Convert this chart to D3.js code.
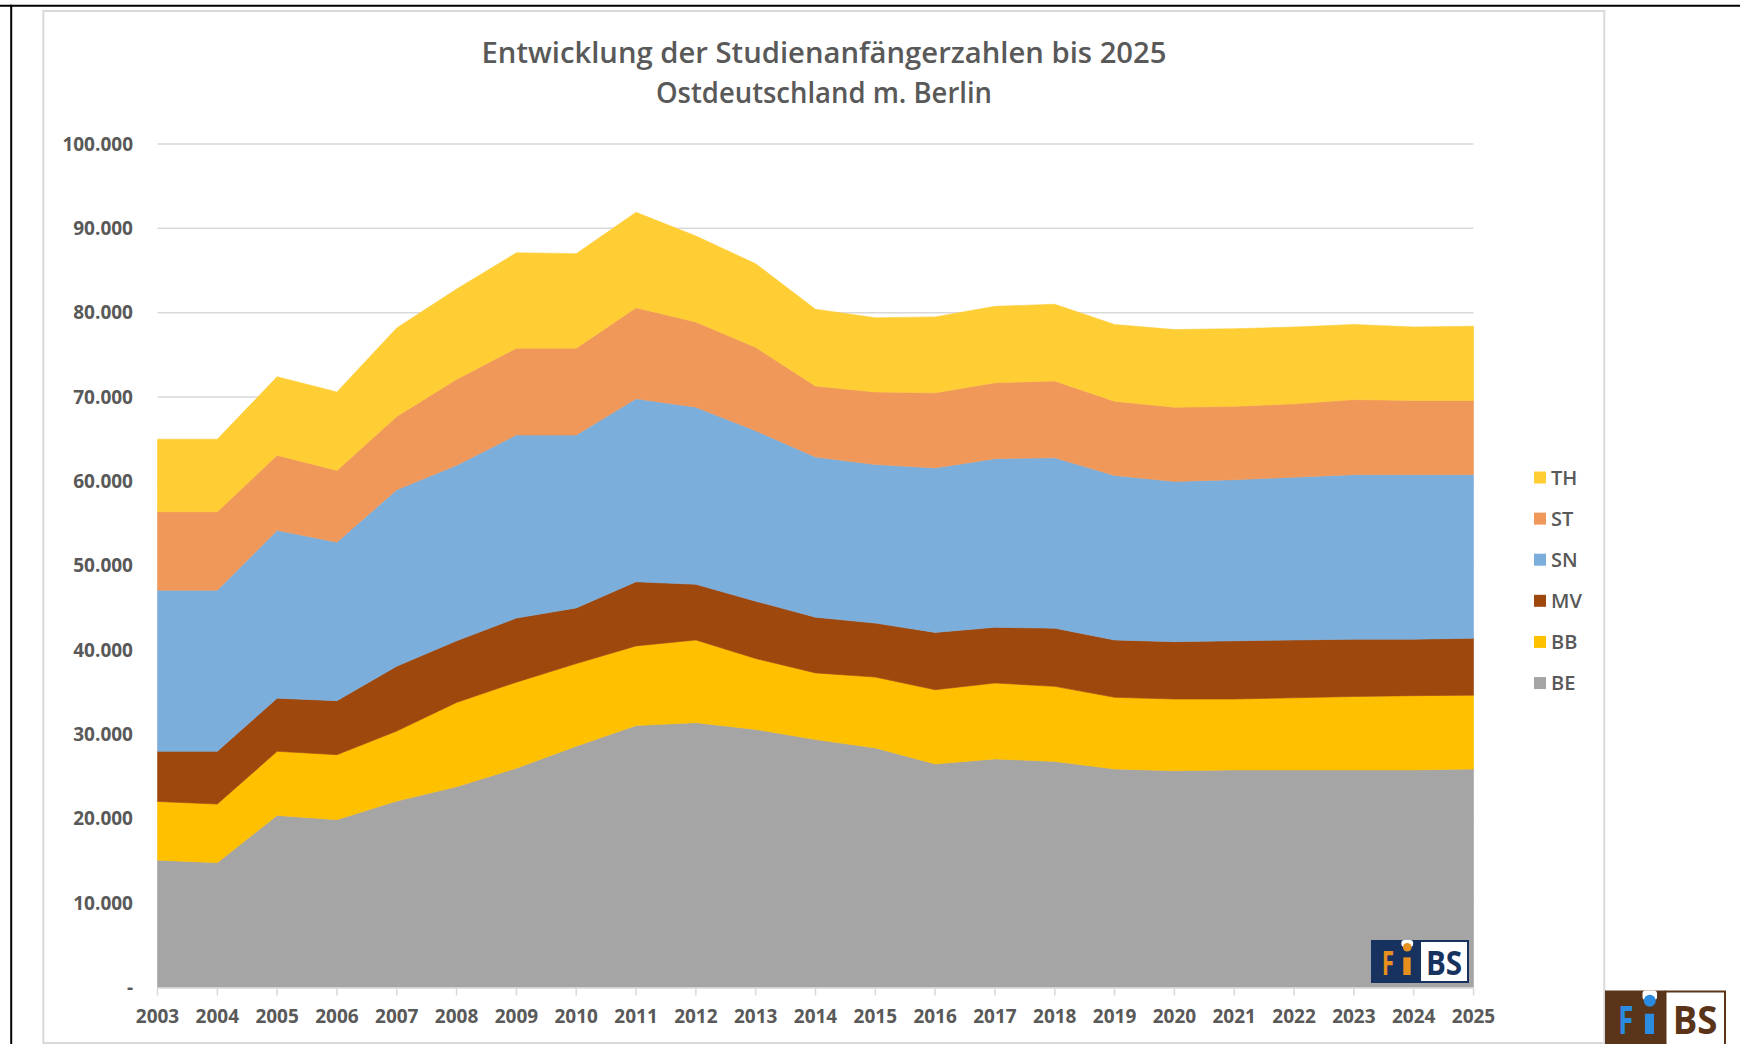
<!DOCTYPE html>
<html>
<head>
<meta charset="utf-8">
<script src="https://cdn.jsdelivr.net/npm/d3@7"></script>
<style>
  html, body { margin: 0; padding: 0; background: #fff; }
  svg { display: block; }
  text { font-family: "Open Sans", "DejaVu Sans", sans-serif; fill: #595959; }
</style>
</head>
<body>
<svg id="chart" width="1740" height="1044"></svg>
<script>
// Studienanfänger nach Ländern (Ostdeutschland m. Berlin)
var years = [2003, 2004, 2005, 2006, 2007, 2008, 2009, 2010, 2011, 2012, 2013, 2014,
             2015, 2016, 2017, 2018, 2019, 2020, 2021, 2022, 2023, 2024, 2025];
var keys = ["BE", "BB", "MV", "SN", "ST", "TH"];
var be = [15100, 14800, 20400, 19900, 22100, 23800, 26000, 28600, 31050, 31400, 30600, 29400,
          28400, 26500, 27100, 26800, 25900, 25700, 25800, 25800, 25800, 25800, 25900];
var bb = [6950, 6950, 7600, 7700, 8300, 10000, 10200, 9800, 9450, 9800, 8400, 7900,
          8400, 8800, 9000, 8900, 8500, 8500, 8400, 8550, 8700, 8800, 8750];
var mv = [5950, 6250, 6300, 6400, 7700, 7300, 7600, 6600, 7600, 6600, 6800, 6600,
          6400, 6800, 6600, 6900, 6800, 6800, 6900, 6850, 6800, 6700, 6750];
var sn = [19100, 19100, 19900, 18800, 20900, 20800, 21700, 20500, 21700, 21000, 20200, 19000,
          18800, 19500, 20000, 20200, 19500, 19000, 19100, 19300, 19500, 19500, 19400];
var st = [9300, 9300, 8900, 8500, 8700, 10200, 10300, 10300, 10800, 10100, 9900, 8400,
          8600, 8900, 9000, 9100, 8800, 8800, 8700, 8700, 8900, 8800, 8800];
var th = [8600, 8600, 9300, 9300, 10500, 10700, 11300, 11200, 11300, 10200, 9900, 9100,
          8800, 9000, 9050, 9100, 9100, 9200, 9200, 9100, 8900, 8700, 8800];
var yTicks = [0, 10000, 20000, 30000, 40000, 50000, 60000, 70000, 80000, 90000, 100000];
var titleLines = ["Entwicklung der Studienanfängerzahlen bis 2025", "Ostdeutschland m. Berlin"];
var colors = { BE: "#a5a5a5", BB: "#ffc000", MV: "#9e480e", SN: "#7caedc", ST: "#f0985a", TH: "#ffcd34" };

var svg = d3.select("#chart");
var series = { BE: be, BB: bb, MV: mv, SN: sn, ST: st, TH: th };
var rows = years.map(function (yr, i) {
    var r = { year: yr };
    keys.forEach(function (k) { r[k] = series[k][i]; });
    return r;
});

var x = d3.scaleLinear().domain([2003, 2025]).range([157.5, 1473.5]),
    y = d3.scaleLinear().domain([0, 100000]).range([987.5, 144]),
    de = d3.formatLocale({ decimal: ",", thousands: ".", grouping: [3], currency: ["", " €"] }),
    fmt = de.format(",.0f");

// frames
svg.append("line").attr("x1", 0).attr("x2", 1740).attr("y1", 5.7).attr("y2", 5.7)
    .style("stroke", "#000").style("stroke-width", 2);
svg.append("line").attr("x1", 11.2).attr("x2", 11.2).attr("y1", 4.7).attr("y2", 1044)
    .style("stroke", "#000").style("stroke-width", 2);
svg.append("rect").attr("x", 43.3).attr("y", 11).attr("width", 1561).attr("height", 1032)
    .style("fill", "#fff").style("stroke", "#d9d9d9").style("stroke-width", 2);

// title
svg.selectAll(".title").data(titleLines).enter().append("text")
    .attr("class", "title")
    .attr("x", 824).attr("y", function (d, i) { return 63 + i * 40; })
    .attr("text-anchor", "middle")
    .attr("textLength", function (d, i) { return i === 0 ? 685 : 336; })
    .attr("lengthAdjust", "spacingAndGlyphs")
    .style("font-size", "28px").style("font-weight", 600)
    .text(function (d) { return d; });

// gridlines + y labels
svg.append("g").selectAll("line").data(yTicks.filter(function (d) { return d > 0; })).enter().append("line")
    .attr("x1", x(2003)).attr("x2", x(2025))
    .attr("y1", function (d) { return y(d); }).attr("y2", function (d) { return y(d); })
    .style("stroke", "#d9d9d9").style("stroke-width", 1.5);
svg.append("g").selectAll("text").data(yTicks).enter().append("text")
    .attr("x", 133).attr("y", function (d) { return y(d); }).attr("dy", "0.35em")
    .attr("text-anchor", "end")
    .style("font-size", "19px").style("font-weight", 700)
    .text(function (d) { return d === 0 ? "-" : fmt(d); });

// stacked areas
var stacked = d3.stack().keys(keys)(rows);
var area = d3.area()
    .x(function (d) { return x(d.data.year); })
    .y0(function (d) { return y(d[0]); })
    .y1(function (d) { return y(d[1]); });
svg.append("g").selectAll("path").data(stacked).enter().append("path")
    .attr("d", area)
    .style("fill", function (d) { return colors[d.key]; })
    .style("stroke", function (d) { return colors[d.key]; })
    .style("stroke-width", 0.6);

// x axis
svg.append("line").attr("x1", x(2003)).attr("x2", x(2025)).attr("y1", y(0) + 0.5).attr("y2", y(0) + 0.5)
    .style("stroke", "#d9d9d9").style("stroke-width", 1.5);
svg.append("g").selectAll("line").data(years).enter().append("line")
    .attr("x1", function (d) { return x(d); }).attr("x2", function (d) { return x(d); })
    .attr("y1", y(0)).attr("y2", y(0) + 8)
    .style("stroke", "#d9d9d9").style("stroke-width", 1.5);
svg.append("g").selectAll("text").data(years).enter().append("text")
    .attr("x", function (d) { return x(d); }).attr("y", 1016).attr("dy", "0.35em")
    .attr("text-anchor", "middle")
    .style("font-size", "19px").style("font-weight", 700)
    .text(function (d) { return d; });

// legend (top entry = top layer)
var legend = svg.append("g").selectAll("g").data(keys.slice().reverse()).enter().append("g")
    .attr("transform", function (d, i) { return "translate(1534," + (477.5 + i * 41.1) + ")"; });
legend.append("rect").attr("x", 0).attr("y", -6).attr("width", 12).attr("height", 12)
    .style("fill", function (d) { return colors[d]; });
legend.append("text").attr("x", 17).attr("dy", "0.36em")
    .style("font-size", "20px").style("font-weight", 600)
    .text(function (d) { return d; });

// FiBS logos
function logo(g, w, h, fs, base, dark, accent) {
    var half = w / 2;
    g.append("rect").attr("width", half).attr("height", h).style("fill", dark);
    g.append("rect").attr("x", half).attr("y", 1).attr("width", half - 1).attr("height", h - 2)
        .style("fill", "#fff").style("stroke", dark).style("stroke-width", 2);
    g.append("rect").attr("x", half * 0.62).attr("y", 0).attr("width", half * 0.24).attr("height", h * 0.16)
        .attr("rx", 3).style("fill", "#fff");
    g.append("circle").attr("cx", half * 0.74).attr("cy", h * 0.17).attr("r", h * 0.1).style("fill", accent);
    g.append("text").attr("x", half * 0.22).attr("y", base)
        .attr("textLength", half * 0.25).attr("lengthAdjust", "spacingAndGlyphs")
        .style("font-size", fs + "px").style("font-weight", 700).style("fill", accent).text("F");
    g.append("rect").attr("x", half * 0.66).attr("y", base - fs * 0.52).attr("width", half * 0.15).attr("height", fs * 0.52)
        .style("fill", accent);
    g.append("text").attr("x", half * 1.12).attr("y", base)
        .attr("textLength", half * 0.74).attr("lengthAdjust", "spacingAndGlyphs")
        .style("font-size", fs + "px").style("font-weight", 700).style("fill", dark).text("BS");
}
logo(svg.append("g").attr("transform", "translate(1371,940)"), 98, 43, 34, 35, "#17325e", "#e8901e");
logo(svg.append("g").attr("transform", "translate(1605,990.5)"), 121, 60, 39, 43.5, "#5a3418", "#2b8be0");
</script>
</body>
</html>
